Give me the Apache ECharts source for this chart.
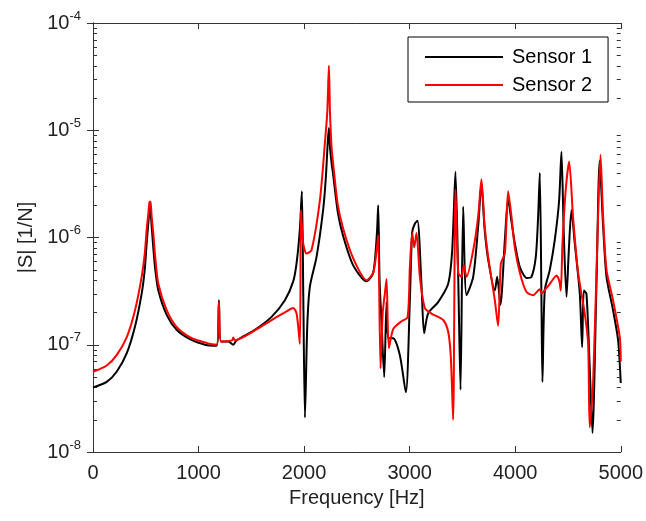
<!DOCTYPE html>
<html>
<head>
<meta charset="utf-8">
<script src="https://cdn.jsdelivr.net/npm/echarts@6/dist/echarts.min.js"></script>
<style>html,body{margin:0;padding:0;background:#fff;}#c{width:646px;height:521px;}</style>
</head>
<body>
<div id="c"></div>
<script>
var FONT = '"Liberation Sans", Arial, sans-serif';
var xTicks = [0, 1000, 2000, 3000, 4000, 5000];
var yTicks = [1e-8, 1e-7, 1e-6, 1e-5, 1e-4];
var seriesNames = ['Sensor 1', 'Sensor 2'];

var freq1 = [0,130,224,319,398,461,490,508,525,540,555,571,590,619,698,792,918,1061,1171,1193,1212,1281,1329,1360,1534,1692,1818,1897,1929,1960,1979,1992,2008,2030,2055,2118,2180,2205,2225,2235,2245,2260,2276,2320,2371,2465,2592,2655,2690,2702,2715,2735,2759,2781,2797,2844,2907,2964,3002,3024,3050,3074,3112,3137,3175,3270,3365,3403,3434,3460,3482,3507,3539,3602,3650,3680,3710,3744,3807,3829,3860,3902,3933,3965,3996,4044,4107,4154,4195,4217,4233,4249,4258,4280,4328,4375,4416,4438,4460,4486,4508,4533,4564,4612,4634,4650,4675,4706,4732,4770,4800,4833,4865,4927,4975,5000];
var sensor1 = [4.0e-8,4.5e-8,5.6e-8,8.3e-8,1.48e-7,3.0e-7,5.0e-7,8.7e-7,1.4e-6,1.95e-6,1.3e-6,8.1e-7,5.0e-7,3.2e-7,1.9e-7,1.38e-7,1.13e-7,1.0e-7,9.8e-8,2.6e-7,1.07e-7,1.07e-7,1.0e-7,1.1e-7,1.38e-7,1.82e-7,2.6e-7,3.9e-7,5.8e-7,1.2e-6,2.7e-6,3.0e-7,2.1e-8,1.5e-7,3.5e-7,6.6e-7,1.8e-6,3.5e-6,8.0e-6,1.05e-5,7.0e-6,5.0e-6,3.8e-6,1.7e-6,1.02e-6,5.5e-7,3.9e-7,4.7e-7,1.1e-6,2.0e-6,4.0e-7,1.5e-7,5.0e-8,2.5e-7,1.15e-7,1.15e-7,8.0e-8,3.6e-8,2.6e-7,1.12e-6,1.35e-6,1.43e-6,3.7e-7,1.28e-7,1.96e-7,2.5e-7,3.7e-7,7.6e-7,4.1e-6,4.3e-7,3.8e-8,1.94e-6,2.9e-7,4.3e-7,1.3e-6,3.2e-6,1.2e-6,6.2e-7,3.2e-7,4.3e-7,2.35e-7,9.5e-7,2.3e-6,1.4e-6,8.9e-7,5.3e-7,4.2e-7,4.3e-7,6.6e-7,1.55e-6,4.0e-6,2.45e-7,4.5e-8,3.2e-7,5.0e-7,9.5e-7,2.2e-6,6.3e-6,1.1e-6,2.8e-7,7.6e-7,1.8e-6,8.9e-7,3.0e-7,9.5e-8,3.2e-7,3.0e-7,6.2e-8,1.5e-8,3.7e-7,5.2e-6,1.27e-6,4.3e-7,2.1e-7,1.1e-7,4.4e-8];

var freq2 = [0,130,224,319,398,461,490,508,525,535,545,555,571,590,619,698,792,918,1061,1171,1193,1212,1281,1320,1329,1345,1534,1692,1818,1897,1929,1960,1970,1990,2023,2070,2150,2197,2220,2235,2245,2260,2276,2320,2371,2465,2592,2655,2690,2702,2724,2745,2765,2781,2803,2844,2920,2980,3002,3024,3043,3065,3097,3144,3207,3318,3365,3390,3412,3434,3460,3491,3513,3539,3602,3650,3680,3710,3744,3807,3838,3864,3902,3933,3965,3996,4044,4107,4170,4233,4250,4265,4328,4391,4416,4432,4448,4479,4511,4548,4596,4659,4691,4706,4738,4776,4808,4833,4865,4927,4991,5000];
var sensor2 = [5.6e-8,6.4e-8,8.0e-8,1.17e-7,2.1e-7,4.3e-7,7.0e-7,1.17e-6,1.7e-6,2.15e-6,2.15e-6,1.6e-6,1.1e-6,6.5e-7,3.7e-7,2.1e-7,1.47e-7,1.18e-7,1.05e-7,1.0e-7,2.5e-7,1.07e-7,1.08e-7,1.1e-7,1.17e-7,1.1e-7,1.36e-7,1.7e-7,2.0e-7,2.2e-7,1.95e-7,1.02e-7,1.8e-6,9.0e-7,7.1e-7,7.6e-7,2.24e-6,7.6e-6,1.5e-5,4.0e-5,1.5e-5,7.0e-6,4.8e-6,2.0e-6,1.2e-6,6.4e-7,4.0e-7,4.7e-7,8.0e-7,1.05e-6,6.0e-8,2.0e-7,3.0e-7,4.1e-7,9.3e-8,1.4e-7,1.65e-7,1.8e-7,5.3e-7,1.1e-6,8.1e-7,1.1e-6,4.3e-7,2.2e-7,1.95e-7,1.7e-7,1.32e-7,7.7e-8,2.0e-8,2.8e-6,4.7e-7,4.3e-7,5.5e-7,4.3e-7,7.6e-7,1.6e-6,3.5e-6,1.3e-6,6.6e-7,2.6e-7,1.5e-7,5.7e-7,7.1e-7,2.7e-6,1.56e-6,8.1e-7,4.7e-7,3.1e-7,2.9e-7,3.3e-7,3.0e-7,3.1e-7,3.7e-7,4.4e-7,4.0e-7,3.2e-7,8.9e-7,2.8e-6,5.1e-6,1.55e-6,4.7e-7,1.95e-7,1.02e-7,1.7e-8,4.4e-8,7.6e-7,5.9e-6,1.55e-6,5.0e-7,2.6e-7,1.17e-7,7.0e-8];

function zip(a, b) { var r = []; for (var i = 0; i < a.length; i++) r.push([a[i], b[i]]); return r; }

var chart = echarts.init(document.getElementById('c'), null, { renderer: 'canvas' });
var axisColor = '#333';
var option = {
  animation: false,
  backgroundColor: '#fff',
  grid: { left: 93, right: 25, top: 23, bottom: 69, containLabel: false },
  legend: {
    data: [
      { name: seriesNames[0], icon: 'rect', itemStyle: { color: '#000' } },
      { name: seriesNames[1], icon: 'rect', itemStyle: { color: '#ff0000' } }
    ],
    orient: 'vertical',
    left: 408, top: 37,
    padding: [10, 16, 7, 17],
    itemWidth: 78, itemHeight: 2, itemGap: 8,
    borderColor: '#000', borderWidth: 1, backgroundColor: '#fff',
    textStyle: { fontSize: 20, fontFamily: FONT, color: '#000', padding: [0, 0, 0, 4], lineHeight: 20 }
  },
  xAxis: [{
    type: 'value', min: xTicks[0], max: xTicks[xTicks.length - 1], interval: 1000,
    position: 'bottom',
    name: 'Frequency [Hz]', nameLocation: 'middle', nameGap: 36,
    nameTextStyle: { fontSize: 20, fontFamily: FONT, color: '#222' },
    axisLine: { show: true, lineStyle: { color: axisColor, width: 1 } },
    axisTick: { show: true, inside: true, length: 6, lineStyle: { color: axisColor } },
    axisLabel: { fontSize: 20, fontFamily: FONT, color: '#222', margin: 11, formatter: function (v) { return String(v); } },
    splitLine: { show: false }
  }, {
    type: 'value', min: xTicks[0], max: xTicks[xTicks.length - 1], interval: 1000,
    position: 'top',
    axisLine: { show: true, lineStyle: { color: axisColor, width: 1 } },
    axisTick: { show: true, inside: true, length: 6, lineStyle: { color: axisColor } },
    axisLabel: { show: false },
    splitLine: { show: false }
  }],
  yAxis: [{
    type: 'log', logBase: 10, min: yTicks[0], max: yTicks[yTicks.length - 1],
    position: 'left',
    name: '|S| [1/N]', nameLocation: 'middle', nameGap: 53, nameRotate: 90,
    nameTextStyle: { fontSize: 20, fontFamily: FONT, color: '#222' },
    axisLine: { show: true, lineStyle: { color: axisColor, width: 1 } },
    axisTick: { show: true, inside: true, length: 6, lineStyle: { color: axisColor } },
    axisLabel: {
      margin: 12, fontFamily: FONT, color: '#222',
      formatter: function (v) { var e = Math.round(Math.log10(v)); return '{b|10}{s|' + e + '}'; },
      rich: {
        b: { fontSize: 20, fontFamily: FONT, color: '#222', lineHeight: 22 },
        s: { fontSize: 13, fontFamily: FONT, color: '#222', verticalAlign: 'top', padding: [0, 0, 14, 0] }
      }
    },
    splitLine: { show: false }
  }, {
    type: 'log', logBase: 10, min: yTicks[0], max: yTicks[yTicks.length - 1],
    position: 'right',
    axisLine: { show: true, lineStyle: { color: axisColor, width: 1 } },
    axisTick: { show: true, inside: true, length: 6, lineStyle: { color: axisColor } },
    axisLabel: { show: false },
    splitLine: { show: false }
  }],
  series: [{
    name: seriesNames[0], type: 'line', xAxisIndex: 0, yAxisIndex: 0,
    data: zip(freq1, sensor1), symbol: 'none', smooth: 0.25,
    lineStyle: { color: '#000', width: 2 }, itemStyle: { color: '#000' }, z: 2
  }, {
    name: seriesNames[1], type: 'line', xAxisIndex: 0, yAxisIndex: 0,
    data: zip(freq2, sensor2), symbol: 'none', smooth: 0.25,
    lineStyle: { color: '#ff0000', width: 2 }, itemStyle: { color: '#ff0000' }, z: 3
  }]
};
chart.setOption(option);

// log-spaced minor ticks drawn from the axis scale
var xl = chart.convertToPixel({ xAxisIndex: 0 }, xTicks[0]);
var xr = chart.convertToPixel({ xAxisIndex: 0 }, xTicks[xTicks.length - 1]);
var g = [];
for (var d = -8; d < -4; d++) {
  for (var m = 2; m <= 9; m++) {
    var y = Math.round(chart.convertToPixel({ yAxisIndex: 0 }, m * Math.pow(10, d))) + 0.5;
    g.push({ type: 'line', shape: { x1: xl, y1: y, x2: xl + 4, y2: y }, style: { stroke: axisColor, lineWidth: 1 }, silent: true });
    g.push({ type: 'line', shape: { x1: xr - 4, y1: y, x2: xr, y2: y }, style: { stroke: axisColor, lineWidth: 1 }, silent: true });
  }
}
chart.setOption({ graphic: g });
</script>
</body>
</html>
